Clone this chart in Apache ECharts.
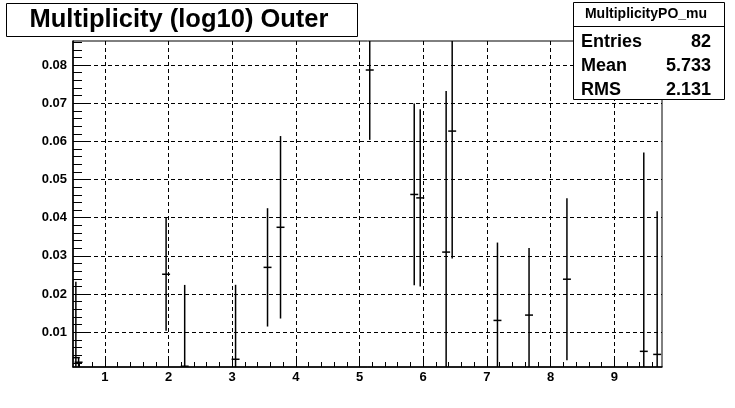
<!DOCTYPE html>
<html>
<head>
<meta charset="utf-8">
<script src="https://cdn.jsdelivr.net/npm/echarts@6/dist/echarts.min.js"></script>
<style>
html,body{margin:0;padding:0;background:#fff;}
#chart{width:735px;height:408px;}
</style>
</head>
<body>
<div id="chart"></div>
<script>
// ---- data ----
const titleText = 'Multiplicity (log10) Outer';
const statsName = 'MultiplicityPO_mu';
const statsLabels = ['Entries', 'Mean', 'RMS'];
const statsValues = ['82', '5.733', '2.131'];

const xCenters = [0.545, 0.588, 1.962, 2.254, 3.053, 3.555, 3.759, 5.160, 5.859, 5.953, 6.360, 6.455, 7.166, 7.662, 8.257, 9.464, 9.674];
const yValues  = [0.00335, 0.00215, 0.0252, 0.0011, 0.00293, 0.0270, 0.0375, 0.0787, 0.0461, 0.0452, 0.0310, 0.0627, 0.0131, 0.0145, 0.0239, 0.0050, 0.0042];
const yErrors  = [0.0199, 0.0012, 0.0148, 0.0213, 0.0195, 0.0155, 0.0239, 0.0183, 0.0238, 0.0232, 0.0422, 0.0334, 0.0204, 0.0176, 0.0212, 0.0521, 0.0375];
const binHalfWidth = 0.0625;

const xRange = [0.5, 9.75];
const yRange = [0.0009, 0.0863];
const xMajorTicks = [1, 2, 3, 4, 5, 6, 7, 8, 9];
const xMinorTicks = [0.6, 0.8, 1.2, 1.4, 1.6, 1.8, 2.2, 2.4, 2.6, 2.8, 3.2, 3.4, 3.6, 3.8, 4.2, 4.4, 4.6, 4.8, 5.2, 5.4, 5.6, 5.8, 6.2, 6.4, 6.6, 6.8, 7.2, 7.4, 7.6, 7.8, 8.2, 8.4, 8.6, 8.8, 9.2, 9.4, 9.6];
const yMajorTicks = [0.01, 0.02, 0.03, 0.04, 0.05, 0.06, 0.07, 0.08];
const yMinorTicks = [0.002, 0.004, 0.006, 0.008, 0.012, 0.014, 0.016, 0.018, 0.022, 0.024, 0.026, 0.028, 0.032, 0.034, 0.036, 0.038, 0.042, 0.044, 0.046, 0.048, 0.052, 0.054, 0.056, 0.058, 0.062, 0.064, 0.066, 0.068, 0.072, 0.074, 0.076, 0.078, 0.082, 0.084, 0.086];

// ---- chart ----
const FONT = '"Liberation Sans", Arial, Helvetica, sans-serif';
const chart = echarts.init(document.getElementById('chart'), null, {renderer: 'canvas'});

const seriesData = xCenters.map((x, i) => [x, yValues[i], yErrors[i]]);

function renderErr(params, api) {
  const x = api.value(0), y = api.value(1), e = api.value(2);
  const cs = params.coordSys;
  const top = api.coord([x, y + e]);
  const bot = api.coord([x, y - e]);
  const c = api.coord([x, y]);
  const l = api.coord([x - binHalfWidth, y]);
  const r = api.coord([x + binHalfWidth, y]);
  const y1 = Math.max(top[1], cs.y);
  const y2 = Math.min(bot[1], cs.y + cs.height);
  const xl = Math.max(l[0], cs.x);
  const xr = Math.min(r[0], cs.x + cs.width);
  const st = {stroke: '#000', lineWidth: 1.5};
  return {
    type: 'group',
    children: [
      {type: 'line', shape: {x1: c[0], y1: y1, x2: c[0], y2: y2}, style: st},
      {type: 'line', shape: {x1: xl, y1: c[1], x2: xr, y2: c[1]}, style: st}
    ]
  };
}

const commonX = {
  type: 'value', min: xRange[0], max: xRange[1], position: 'bottom'
};
const commonY = {
  type: 'value', min: yRange[0], max: yRange[1], position: 'left'
};

chart.setOption({
  animation: false,
  backgroundColor: '#fff',
  grid: {left: 73, top: 41, width: 589, height: 326, show: true, borderColor: '#000', borderWidth: 1, backgroundColor: '#fff', containLabel: false},
  xAxis: [
    Object.assign({}, commonX, {
      axisLine: {show: true, onZero: false, lineStyle: {color: '#000', width: 1.5}},
      axisTick: {show: true, inside: true, length: 10, customValues: xMajorTicks, lineStyle: {color: '#000', width: 1}},
      axisLabel: {show: true, customValues: xMajorTicks, margin: 4, color: '#000', fontFamily: FONT, fontWeight: 'bold', fontSize: 13, formatter: v => String(v)},
      splitLine: {show: true, lineStyle: {color: '#000', width: 1, type: [4, 3]}}
    }),
    Object.assign({}, commonX, {
      axisLine: {show: false},
      axisTick: {show: true, inside: true, length: 5, customValues: xMinorTicks, lineStyle: {color: '#000', width: 1}},
      axisLabel: {show: false},
      splitLine: {show: false}
    })
  ],
  yAxis: [
    Object.assign({}, commonY, {
      axisLine: {show: true, onZero: false, lineStyle: {color: '#000', width: 1.5}},
      axisTick: {show: true, inside: true, length: 17, customValues: yMajorTicks, lineStyle: {color: '#000', width: 1}},
      axisLabel: {show: true, customValues: yMajorTicks, margin: 6, color: '#000', fontFamily: FONT, fontWeight: 'bold', fontSize: 13, formatter: v => v.toFixed(2)},
      splitLine: {show: true, lineStyle: {color: '#000', width: 1, type: [4, 3]}}
    }),
    Object.assign({}, commonY, {
      axisLine: {show: false},
      axisTick: {show: true, inside: true, length: 9, customValues: yMinorTicks, lineStyle: {color: '#000', width: 1}},
      axisLabel: {show: false},
      splitLine: {show: false}
    })
  ],
  series: [{
    type: 'custom',
    xAxisIndex: 0, yAxisIndex: 0,
    renderItem: renderErr,
    data: seriesData,
    clip: true,
    z: 5
  }],
  graphic: [
    {type: 'rect', left: 6, top: 3, z: 10, shape: {width: 351, height: 33}, style: {fill: '#fff', stroke: '#000', lineWidth: 1}},
    {type: 'text', x: 179, y: 19.5, z: 11, style: {text: titleText, font: 'bold 25.5px ' + FONT, fill: '#000', align: 'center', verticalAlign: 'middle'}},
    {type: 'rect', x: 573.5, y: 2.5, z: 10, shape: {width: 151, height: 97}, style: {fill: '#fff', stroke: '#000', lineWidth: 1}},
    {type: 'line', z: 11, shape: {x1: 573.5, y1: 26.5, x2: 724.5, y2: 26.5}, style: {stroke: '#000', lineWidth: 1}},
    {type: 'text', x: 646, y: 14.5, z: 11, style: {text: statsName, font: 'bold 14px ' + FONT, fill: '#000', align: 'center', verticalAlign: 'middle'}},
    ...statsLabels.map((s, i) => ({type: 'text', x: 581, y: 42 + i * 24, z: 11, style: {text: s, font: 'bold 18px ' + FONT, fill: '#000', align: 'left', verticalAlign: 'middle'}})),
    ...statsValues.map((s, i) => ({type: 'text', x: 711, y: 42 + i * 24, z: 11, style: {text: s, font: 'bold 18px ' + FONT, fill: '#000', align: 'right', verticalAlign: 'middle'}}))
  ]
});
</script>
</body>
</html>
